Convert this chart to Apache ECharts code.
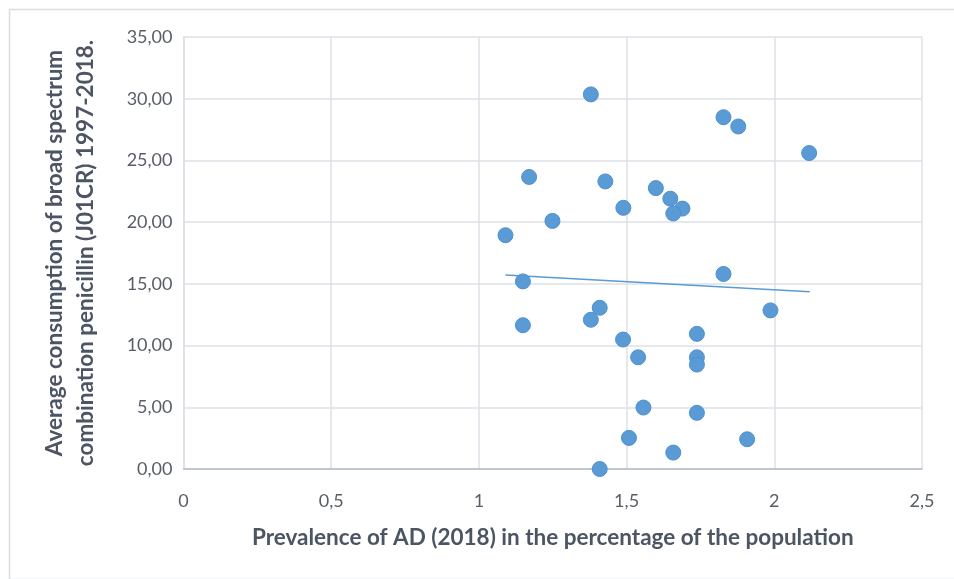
<!DOCTYPE html>
<html>
<head>
<meta charset="utf-8">
<script src="https://cdn.jsdelivr.net/npm/echarts@6/dist/echarts.min.js"></script>
<style>
html,body{margin:0;padding:0;background:#fff;}
#chart{width:954px;height:579px;}
</style>
</head>
<body>
<div id="chart"></div>
<script>
// Prevalence of AD (2018), % of population
const prevalence = [1.379, 1.828, 1.878, 2.118, 1.170, 1.428, 1.599, 1.648, 1.689, 1.658,
  1.489, 1.249, 1.090, 1.828, 1.149, 1.409, 1.379, 1.149, 1.987, 1.738,
  1.488, 1.539, 1.738, 1.738, 1.557, 1.738, 1.508, 1.908, 1.658, 1.409];
// Average consumption J01CR 1997-2018
const consumption = [30.35, 28.5, 27.75, 25.6, 23.66, 23.3, 22.76, 21.9, 21.1, 20.7,
  21.16, 20.1, 18.94, 15.8, 15.2, 13.06, 12.09, 11.65, 12.85, 10.95,
  10.49, 9.05, 9.05, 8.46, 4.98, 4.55, 2.52, 2.41, 1.33, 0.0];
// Linear trend line: endpoints (x, y)
const trendX = [1.09, 2.12];
const trendY = [15.72, 14.37];
const xTicks = [0, 0.5, 1, 1.5, 2, 2.5];
const yTicks = [0, 5, 10, 15, 20, 25, 30, 35];
const xTitle = 'Prevalence of AD (2018) in the percentage of the population';
const yTitle = 'Average consumption of broad spectrum\ncombination penicillin (J01CR) 1997-2018.';

const points = prevalence.map((x, i) => [x, consumption[i]]);
const trend = trendX.map((x, i) => [x, trendY[i]]);

const fontFam = 'Lato, "Open Sans", sans-serif';
const titleColor = '#4b5563';
const chart = echarts.init(document.getElementById('chart'));
chart.setOption({
  animation: false,
  backgroundColor: '#fff',
  graphic: [{
    type: 'rect', left: 7, top: 7, z: -1,
    shape: { x: 0, y: 0, width: 960, height: 570 },
    style: { fill: 'none', stroke: '#d9dde3', lineWidth: 1.5 }
  }],
  grid: { left: 183.5, right: 32, top: 37, bottom: 110 },
  xAxis: {
    type: 'value', min: xTicks[0], max: xTicks[xTicks.length - 1], interval: 0.5,
    name: xTitle, nameLocation: 'middle', nameGap: 57,
    nameTextStyle: { fontFamily: fontFam, fontSize: 22.5, fontWeight: 'bold', color: titleColor },
    axisLine: { show: true, lineStyle: { color: '#b4bcc6', width: 1.5 } },
    axisTick: { show: false },
    axisLabel: { fontFamily: fontFam, fontSize: 18, color: '#595e66', margin: 23,
      formatter: v => String(v).replace('.', ',') },
    splitLine: { show: true, lineStyle: { color: '#dde1e6', width: 1.5 } }
  },
  yAxis: {
    type: 'value', min: yTicks[0], max: yTicks[yTicks.length - 1], interval: 5,
    name: yTitle, nameLocation: 'middle', nameGap: 82, nameRotate: 90,
    nameTextStyle: { fontFamily: fontFam, fontSize: 22.5, fontWeight: 'bold', color: titleColor, lineHeight: 31 },
    axisLine: { show: true, lineStyle: { color: '#dde1e6', width: 1.5 } },
    axisTick: { show: false },
    axisLabel: { fontFamily: fontFam, fontSize: 18, color: '#595e66', margin: 11,
      formatter: v => v.toFixed(2).replace('.', ',') },
    splitLine: { show: true, lineStyle: { color: '#dde1e6', width: 1.5 } }
  },
  series: [{
    type: 'scatter',
    data: points,
    symbolSize: 15,
    itemStyle: { color: '#5b9bd5', borderColor: '#4f8fcf', borderWidth: 1, opacity: 1 },
    z: 3
  }, {
    type: 'line',
    data: trend,
    symbol: 'none',
    lineStyle: { color: '#5b9bd5', width: 1.5 },
    z: 2
  }]
});
</script>
</body>
</html>
